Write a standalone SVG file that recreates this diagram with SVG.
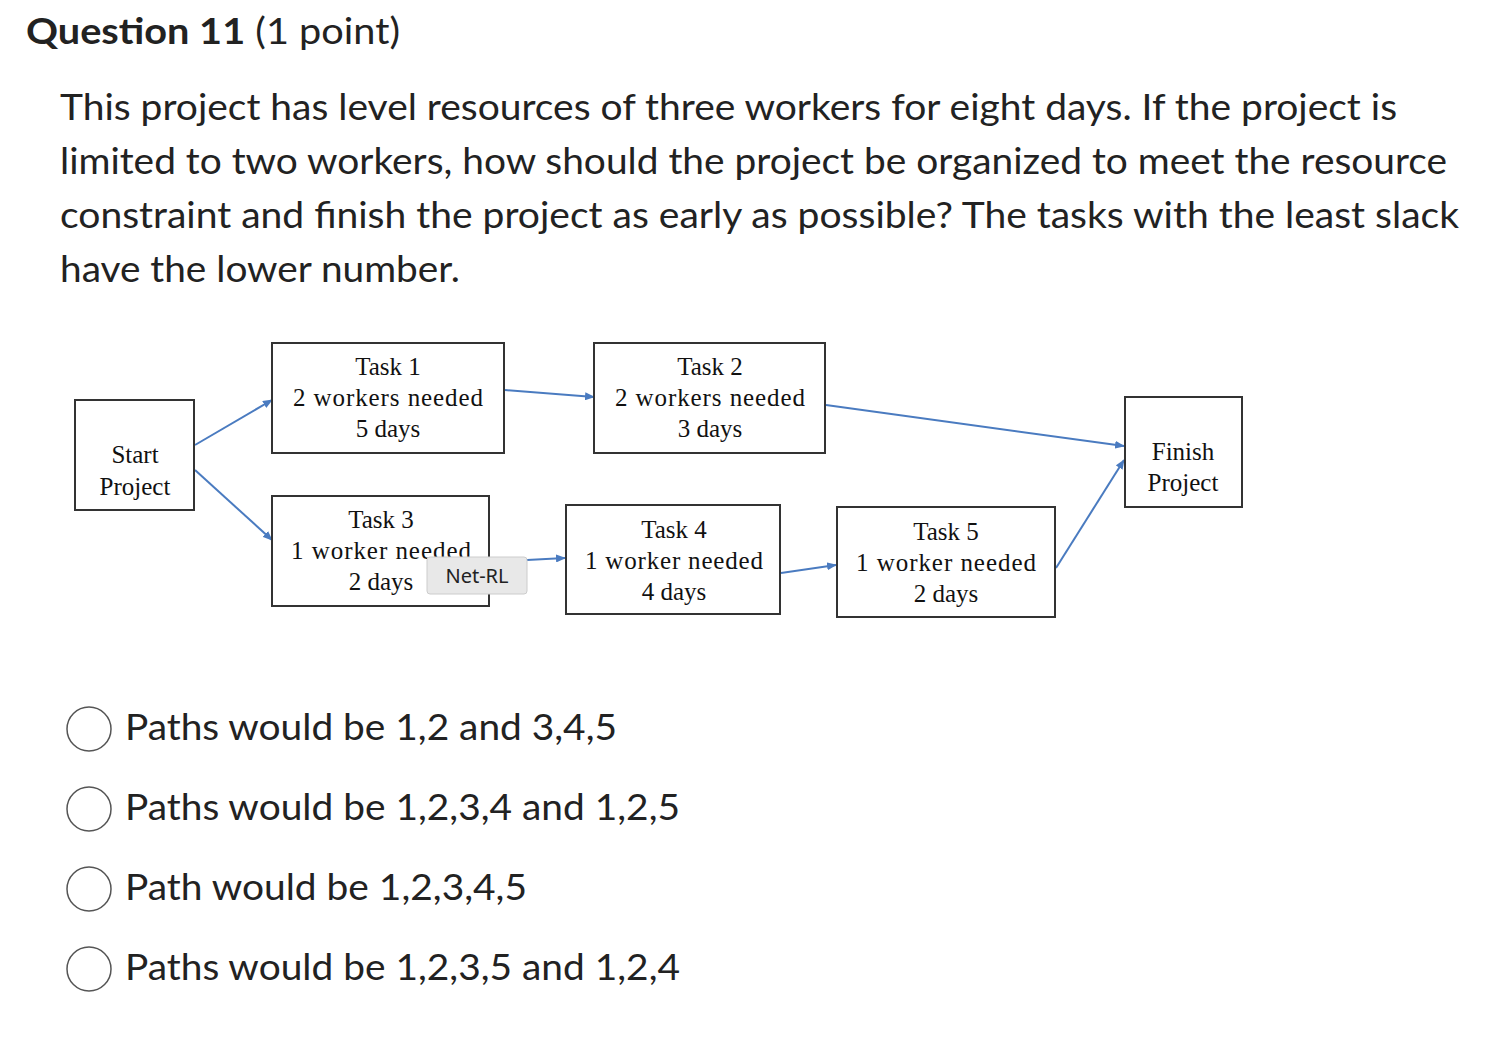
<svg xmlns="http://www.w3.org/2000/svg" width="1502" height="1040" viewBox="0 0 1502 1040">
<style>
.q{font-family:Lato,"Liberation Sans",sans-serif;fill:#222}
.b{fill:#fff;stroke:#333;stroke-width:2}
.t{font-family:"Liberation Serif",serif;font-size:25px;fill:#111;text-anchor:middle}
.c{stroke:#4a7bc0;stroke-width:2;fill:none;marker-end:url(#a)}
.o{fill:#fff;stroke:#555;stroke-width:1.5}
</style>
<defs><marker id="a" markerWidth="10" markerHeight="8" refX="9" refY="4" orient="auto" markerUnits="userSpaceOnUse"><path d="M0,0L10,4L0,8z" fill="#4a7bc0"/></marker></defs>
<rect width="1502" height="1040" fill="#fff"/>
<text class="q" x="26" y="44" font-size="36" textLength="374" lengthAdjust="spacingAndGlyphs"><tspan font-weight="bold">Question 11</tspan> (1 point)</text>
<g class="q" font-size="36">
<text x="60" y="120" textLength="1337" lengthAdjust="spacingAndGlyphs">This project has level resources of three workers for eight days. If the project is</text>
<text x="60" y="174" textLength="1387" lengthAdjust="spacingAndGlyphs">limited to two workers, how should the project be organized to meet the resource</text>
<text x="60" y="228" textLength="1399" lengthAdjust="spacingAndGlyphs">constraint and finish the project as early as possible? The tasks with the least slack</text>
<text x="60" y="282" textLength="400" lengthAdjust="spacingAndGlyphs">have the lower number.</text>
</g>
<g id="connectors">
<path class="c" d="M195,445L272,400"/>
<path class="c" d="M195,470L272,540"/>
<path class="c" d="M505,390L594,397"/>
<path class="c" d="M826,405L1124,446"/>
<path class="c" d="M490,562L565,558"/>
<path class="c" d="M781,573L836,565"/>
<path class="c" d="M1056,568L1124,460"/>
</g>
<g id="start"><rect class="b" x="75" y="400" width="119" height="110"/><text class="t" x="135" y="463">Start</text><text class="t" x="135" y="495">Project</text></g>
<g id="task1"><rect class="b" x="272" y="343" width="232" height="110"/><text class="t" x="388" y="375">Task 1</text><text class="t" x="388" y="406" textLength="190">2 workers needed</text><text class="t" x="388" y="437">5 days</text></g>
<g id="task2"><rect class="b" x="594" y="343" width="231" height="110"/><text class="t" x="710" y="375">Task 2</text><text class="t" x="710" y="406" textLength="190">2 workers needed</text><text class="t" x="710" y="437">3 days</text></g>
<g id="task3"><rect class="b" x="272" y="496" width="217" height="110"/><text class="t" x="381" y="528">Task 3</text><text class="t" x="381" y="559" textLength="180">1 worker needed</text><text class="t" x="381" y="590">2 days</text></g>
<g id="task4"><rect class="b" x="566" y="505" width="214" height="109"/><text class="t" x="674" y="538">Task 4</text><text class="t" x="674" y="569" textLength="178">1 worker needed</text><text class="t" x="674" y="600">4 days</text></g>
<g id="task5"><rect class="b" x="837" y="507" width="218" height="110"/><text class="t" x="946" y="540">Task 5</text><text class="t" x="946" y="571" textLength="180">1 worker needed</text><text class="t" x="946" y="602">2 days</text></g>
<g id="finish"><rect class="b" x="1125" y="397" width="117" height="110"/><text class="t" x="1183" y="460">Finish</text><text class="t" x="1183" y="491">Project</text></g>
<g id="tooltip"><rect x="427" y="557" width="100" height="37" rx="3" fill="#e8e8e8" stroke="#ccc"/><text x="477" y="583" font-family="'Noto Sans','Liberation Sans',sans-serif" font-size="20" fill="#222" text-anchor="middle">Net-RL</text></g>
<g class="q" font-size="36">
<circle class="o" cx="89" cy="729" r="22"/><text x="125" y="740" textLength="492" lengthAdjust="spacingAndGlyphs">Paths would be 1,2 and 3,4,5</text>
<circle class="o" cx="89" cy="809" r="22"/><text x="125" y="820" textLength="555" lengthAdjust="spacingAndGlyphs">Paths would be 1,2,3,4 and 1,2,5</text>
<circle class="o" cx="89" cy="889" r="22"/><text x="125" y="900" textLength="402" lengthAdjust="spacingAndGlyphs">Path would be 1,2,3,4,5</text>
<circle class="o" cx="89" cy="969" r="22"/><text x="125" y="980" textLength="555" lengthAdjust="spacingAndGlyphs">Paths would be 1,2,3,5 and 1,2,4</text>
</g>
</svg>
